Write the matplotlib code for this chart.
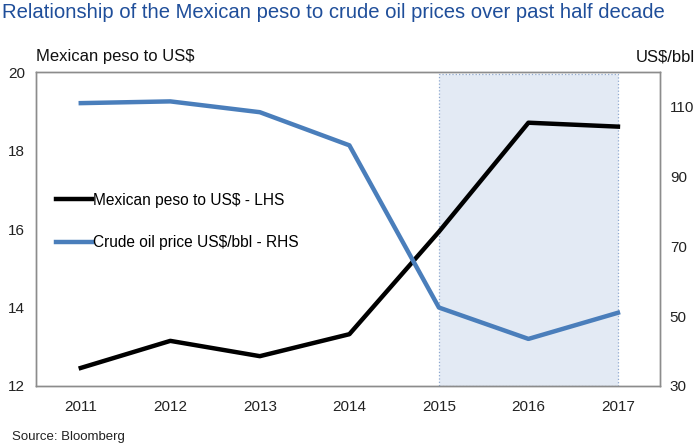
import matplotlib
matplotlib.use("Agg")
import matplotlib.pyplot as plt

years = [2011, 2012, 2013, 2014, 2015, 2016, 2017]
peso = [12.46, 13.15, 12.76, 13.32, 15.93, 18.71, 18.61]
oil = [111.1, 111.6, 108.5, 99.0, 52.5, 43.5, 51.0]
left_ticks = [12, 14, 16, 18, 20]
right_ticks = [30, 50, 70, 90, 110]
shade_span = [2015, 2017]

plt.rcParams['font.family'] = ['Liberation Sans', 'DejaVu Sans']

fig = plt.figure(figsize=(6.98, 4.45), dpi=100)
ax = fig.add_axes([0.0516, 0.1326, 0.894, 0.7054])
ax2 = ax.twinx()

ax.axvspan(shade_span[0], shade_span[1], facecolor='#E3EAF4', edgecolor='#8FA9D0',
           linestyle=':', linewidth=0.9, zorder=0, ymax=0.995)

l1, = ax.plot(years, peso, color='black', linewidth=3.2, label='Mexican peso to US$ - LHS', zorder=3)
l2, = ax2.plot(years, oil, color='#4A7EBB', linewidth=3.2, label='Crude oil price US$/bbl - RHS', zorder=3)

ax.set_xlim(2010.5, 2017.47)
ax.set_ylim(12, 20)
ax2.set_ylim(30, 120)
ax.set_yticks(left_ticks)
ax2.set_yticks(right_ticks)
ax.set_xticks(years)
ax.set_xticklabels([str(y) for y in years])

for a in (ax, ax2):
    a.tick_params(length=0, labelsize=11, colors='#222222')
    for s in a.spines.values():
        s.set_color('#8c8c8c')
        s.set_linewidth(1.0)
ax.tick_params(axis='x', pad=10)
ax.tick_params(axis='y', pad=8)
ax2.tick_params(axis='y', pad=7)

leg = ax.legend(handles=[l1, l2], loc='upper left', bbox_to_anchor=(0.022, 0.635),
                frameon=False, fontsize=11.2, handlelength=2.3, handletextpad=0.1,
                labelspacing=1.75, borderaxespad=0)

fig.text(0.003, 0.972, 'Relationship of the Mexican peso to crude oil prices over past half decade',
         color='#1F4E9A', fontsize=14.6, ha='left', va='center')
fig.text(0.052, 0.872, 'Mexican peso to US$', fontsize=12, ha='left', va='center', color='#111111')
fig.text(0.996, 0.872, 'US$/bbl', fontsize=12, ha='right', va='center', color='#111111')
fig.text(0.017, 0.018, 'Source: Bloomberg', fontsize=9.5, ha='left', va='center', color='#222222')

fig.savefig('out.png', dpi=100)
